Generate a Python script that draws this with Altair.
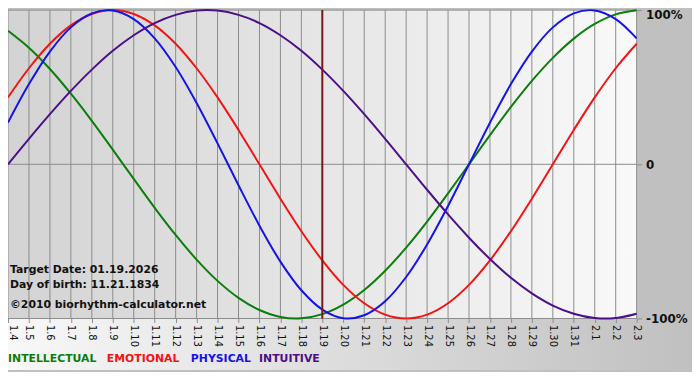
import altair as alt
import pandas as pd

dates = ["1.4", "1.5", "1.6", "1.7", "1.8", "1.9", "1.10", "1.11", "1.12", "1.13",
         "1.14", "1.15", "1.16", "1.17", "1.18", "1.19", "1.20", "1.21", "1.22", "1.23",
         "1.24", "1.25", "1.26", "1.27", "1.28", "1.29", "1.30", "1.31", "2.1", "2.2", "2.3"]

intellectual = [0.866, 0.756, 0.618, 0.458, 0.282, 0.095, -0.095, -0.282, -0.458, -0.618,
                -0.756, -0.866, -0.945, -0.990, -0.999, -0.972, -0.910, -0.815, -0.690,
                -0.541, -0.372, -0.189, 0.000, 0.189, 0.372, 0.541, 0.690, 0.815, 0.910,
                0.972, 0.999]
emotional = [0.434, 0.623, 0.782, 0.901, 0.975, 1.000, 0.975, 0.901, 0.782, 0.623, 0.434,
             0.223, 0.000, -0.223, -0.434, -0.623, -0.782, -0.901, -0.975, -1.000, -0.975,
             -0.901, -0.782, -0.623, -0.434, -0.223, 0.000, 0.223, 0.434, 0.623, 0.782]
physical = [0.270, 0.520, 0.731, 0.888, 0.979, 0.998, 0.942, 0.817, 0.631, 0.398, 0.136,
            -0.136, -0.398, -0.631, -0.817, -0.942, -0.998, -0.979, -0.888, -0.731, -0.520,
            -0.270, 0.000, 0.270, 0.520, 0.731, 0.888, 0.979, 0.998, 0.942, 0.817]
intuitive = [0.000, 0.165, 0.325, 0.476, 0.614, 0.736, 0.837, 0.916, 0.969, 0.997, 0.997,
             0.969, 0.916, 0.837, 0.736, 0.614, 0.476, 0.325, 0.165, 0.000, -0.165, -0.325,
             -0.476, -0.614, -0.736, -0.837, -0.916, -0.969, -0.997, -0.997, -0.969]

series_names = ["INTELLECTUAL", "EMOTIONAL", "PHYSICAL", "INTUITIVE"]
series_colors = ["#0b7d0b", "#f01414", "#1414e6", "#4b0f87"]
target_date = ["1.19"]
level_values = [-1, 0, 1]
info_lines = ["Target Date: 01.19.2026", "Day of birth: 11.21.1834", "\u00a92010 biorhythm-calculator.net"]

W, H = 636, 312
FONT = "DejaVu Sans"
GRID = "#8c8c8c"

rows = []
for name, vals in zip(series_names, [intellectual, emotional, physical, intuitive]):
    for i, (d, v) in enumerate(zip(dates, vals)):
        rows.append({"series": name, "date": d, "idx": i, "value": v})
df = pd.DataFrame(rows)

xscale = alt.Scale(type="point", padding=0, domain=dates)
yscale = alt.Scale(domain=[-1, 1], nice=False, zero=False)

xaxis = alt.Axis(orient="bottom", labelAngle=90, labelAlign="left", labelBaseline="middle",
                 labelFontSize=10, labelFont=FONT, labelColor="#111111", tickColor=GRID,
                 labelOffset={"condition": {"test": "datum.value === '1.4'", "value": 5}, "value": 0},
                 tickSize=4, domain=False, grid=False, title=None, labelPadding=2, zindex=1)

yaxis = alt.Axis(orient="right", values=level_values,
                 labelExpr="datum.value == 1 ? '100%' : (datum.value == 0 ? '0' : '-100%')",
                 labelFontSize=12, labelFontWeight="bold", labelFont=FONT, labelColor="#111111",
                 labelBaseline={"condition": {"test": "datum.value == 1", "value": "top"}, "value": "middle"},
                 grid=False, domain=False, tickColor=GRID, tickSize=5, labelPadding=4,
                 title=None, zindex=1)

X = alt.X("date:O", sort=dates, scale=xscale, axis=xaxis)

one = pd.DataFrame({"a": [0]})

bg_plot = alt.Chart(one).mark_rect(
    fill=alt.LinearGradient(gradient="linear",
                            stops=[alt.GradientStop(offset=0, color="#d3d3d3"),
                                   alt.GradientStop(offset=1, color="#f9f9f9")],
                            x1=0, x2=1, y1=0, y2=0)
).encode(x=alt.value(0), x2=alt.value(W), y=alt.value(0), y2=alt.value(H))

bg_bottom = alt.Chart(one).mark_rect(
    fill=alt.LinearGradient(gradient="linear",
                            stops=[alt.GradientStop(offset=0, color="#f8f8f8"),
                                   alt.GradientStop(offset=1, color="#c0c0c0")],
                            x1=0, x2=1, y1=0, y2=0)
).encode(x=alt.value(0), x2=alt.value(W + 56), y=alt.value(H), y2=alt.value(H + 52))

vgrid = alt.Chart(pd.DataFrame({"date": dates})).mark_rule(color=GRID, strokeWidth=1).encode(
    x=X, y=alt.value(0), y2=alt.value(H)
)

hgrid = alt.Chart(pd.DataFrame({"v": level_values})).mark_rule(color=GRID, strokeWidth=1).encode(
    y=alt.Y("v:Q", scale=yscale, axis=yaxis),
    x=alt.value(0), x2=alt.value(W)
)

lines = alt.Chart(df).mark_line(strokeWidth=2, interpolate="catmull-rom").encode(
    x=X,
    y=alt.Y("value:Q", scale=yscale, axis=yaxis),
    color=alt.Color("series:N", scale=alt.Scale(domain=series_names, range=series_colors), legend=None),
    order=alt.Order("idx:Q")
)

target = alt.Chart(pd.DataFrame({"date": target_date})).mark_rule(color="#7a1818", strokeWidth=2).encode(
    x=X, y=alt.value(0), y2=alt.value(H)
)

layers = [bg_plot, bg_bottom, vgrid, hgrid, lines, target]

info_y = [263, 278, 298]
for txt, yy in zip(info_lines, info_y):
    layers.append(alt.Chart(one).mark_text(text=txt, align="left", baseline="middle", font=FONT,
                                           fontSize=11, fontWeight="bold", color="#111111").encode(
        x=alt.value(2), y=alt.value(yy)))

legend_x = [0, 100, 185, 254]
for name, col, xx in zip(series_names, series_colors, legend_x):
    layers.append(alt.Chart(one).mark_text(text=name, align="left", baseline="middle", font=FONT,
                                           fontSize=11, fontWeight="bold", color=col).encode(
        x=alt.value(xx), y=alt.value(H + 41)))

chart = alt.layer(*layers).properties(
    width=W, height=H,
    background="#c0c0c0",
    padding={"left": 0, "top": 0, "right": 56, "bottom": 52},
    autosize=alt.AutoSizeParams(type="none")
).configure_view(stroke=None)

chart.save("out.html", embed_options={"renderer": "svg", "actions": False})
